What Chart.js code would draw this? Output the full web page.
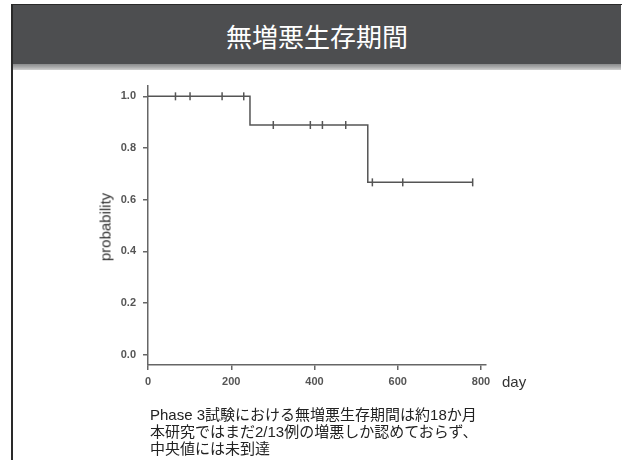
<!DOCTYPE html>
<html>
<head>
<meta charset="utf-8">
<script src="https://cdn.jsdelivr.net/npm/chart.js@4"></script>
<style>
  body { margin: 0; width: 622px; height: 460px; background: #fff; overflow: hidden; position: relative;
         font-family: "Liberation Sans", Arial, "Noto Sans CJK JP", sans-serif; }
  #frame { position: absolute; left: 11px; top: 4px; width: 609px; height: 460px;
           border-left: 2px solid #2a2a2a; border-top: 1px solid #2a2a2a; border-right: 1px solid #ccc; }
  #header { position: absolute; left: 13px; top: 5px; width: 608px; height: 59px; background: #4d4e50;
            color: #fff; font-size: 26px; text-align: center; line-height: 62px;
            font-family: "Noto Sans CJK JP", sans-serif; }
  #strip { position: absolute; left: 13px; top: 64px; width: 608px; height: 6px;
           background: linear-gradient(#8a8b8c, #a8a9aa 50%, #d0d0d0); }
  #wrap { position: absolute; left: 0; top: 0; width: 622px; height: 460px; }
  .lbl { position: absolute; color: #333; font-size: 15px; }
  #ylab { left: 105px; top: 227px; transform: translate(-50%, -50%) rotate(-90deg); white-space: nowrap; }
  #xlab { left: 502px; top: 373px; }
  #note { position: absolute; left: 150px; top: 406px; font-size: 15px; line-height: 17px; color: #222;
          font-family: "Liberation Sans", Arial, "Noto Sans CJK JP", sans-serif; }
</style>
</head>
<body>
<div id="frame"></div>
<div id="header">無増悪生存期間</div>
<div id="strip"></div>
<div id="wrap"><canvas id="chart" width="622" height="460"></canvas></div>
<div class="lbl" id="ylab">probability</div>
<div class="lbl" id="xlab">day</div>
<div id="note">Phase 3試験における無増悪生存期間は約18か月<br>本研究ではまだ2/13例の増悪しか認めておらず、<br>中央値には未到達</div>
<script>
// Kaplan-Meier steps (day, survival)
const stepDays = [0, 245, 528, 780];
const stepProb = [1.0, 0.889, 0.667, 0.667];

// censored patients
const censorDays = [66, 101, 178, 230, 301, 390, 419, 475, 539, 612, 780];
const censorProb = [1.0, 1.0, 1.0, 1.0, 0.889, 0.889, 0.889, 0.889, 0.667, 0.667, 0.667];

const xTicks = [0, 200, 400, 600, 800];
const yTicks = [0.0, 0.2, 0.4, 0.6, 0.8, 1.0];

const lineCol = '#555';

const ctx = document.getElementById('chart');
new Chart(ctx, {
  type: 'scatter',
  data: {
    datasets: [
      {
        type: 'line',
        data: stepDays.map((d, i) => ({x: d, y: stepProb[i]})),
        stepped: 'before',
        borderColor: lineCol,
        borderWidth: 1.5,
        pointRadius: 0,
        fill: false
      },
      {
        data: censorDays.map((d, i) => ({x: d, y: censorProb[i]})),
        pointStyle: 'line',
        rotation: 90,
        pointRadius: 4,
        borderColor: lineCol,
        borderWidth: 1.5
      }
    ]
  },
  options: {
    responsive: false,
    animation: false,
    events: [],
    layout: { padding: { left: 98, top: 86, right: 136, bottom: 65 } },
    plugins: { legend: { display: false }, tooltip: { enabled: false } },
    scales: {
      x: {
        type: 'linear',
        min: 0,
        max: 812,
        afterBuildTicks: s => { s.ticks = xTicks.map(v => ({value: v})); },
        afterFit: s => { s.height = 30; },
        grid: { drawOnChartArea: false, drawTicks: true, tickLength: 5, color: '#666', lineWidth: 1.5 },
        border: { display: true, color: '#666', width: 1.5 },
        ticks: { color: '#555', font: { size: 11, weight: 'bold', family: 'Liberation Sans' }, padding: 5, maxRotation: 0 }
      },
      y: {
        min: -0.04,
        max: 1.04,
        afterBuildTicks: s => { s.ticks = yTicks.map(v => ({value: v})); },
        afterFit: s => { s.width = 50; },
        grid: { drawOnChartArea: false, drawTicks: true, tickLength: 5, color: '#666', lineWidth: 1.5 },
        border: { display: true, color: '#666', width: 1.5 },
        ticks: { color: '#555', font: { size: 11, weight: 'bold', family: 'Liberation Sans' }, padding: 7,
                 callback: v => v.toFixed(1) }
      }
    }
  }
});
</script>
</body>
</html>
